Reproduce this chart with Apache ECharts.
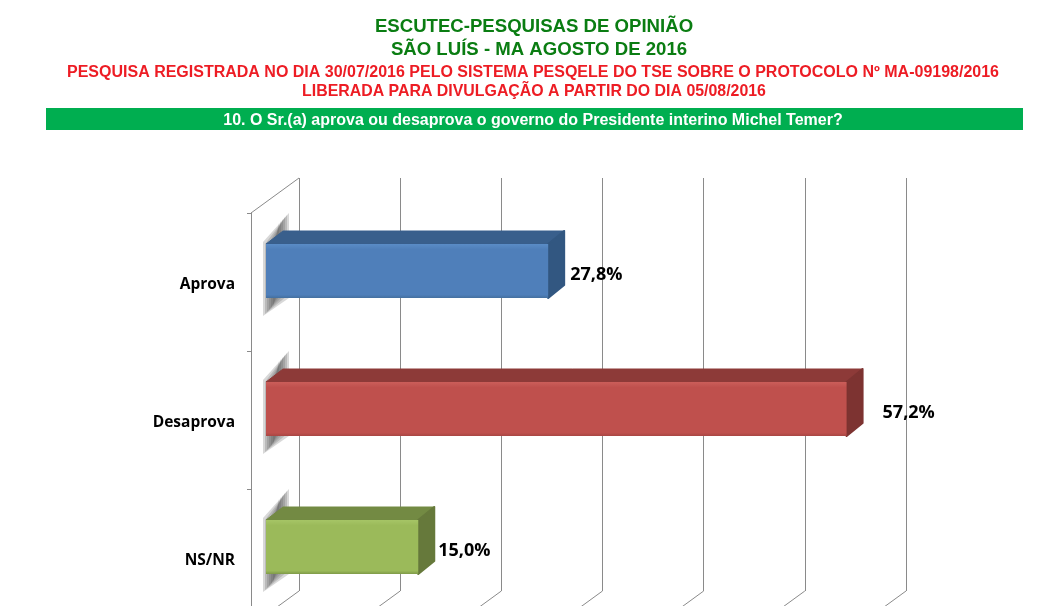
<!DOCTYPE html>
<html>
<head>
<meta charset="utf-8">
<style>
html, body { margin: 0; padding: 0; background: #fff; }
#chart { width: 1046px; height: 606px; }
</style>
<script src="https://cdn.jsdelivr.net/npm/echarts@6/dist/echarts.min.js"></script>
</head>
<body>
<div id="chart"></div>
<script>
var categories = ['Aprova', 'Desaprova', 'NS/NR']
var values = [27.8, 57.2, 15.0]
var valueLabels = ['27,8%', '57,2%', '15,0%']
var wallTicks = [0, 10, 20, 30, 40, 50, 60]

var questionText = '10. O Sr.(a) aprova ou desaprova o governo do Presidente interino Michel Temer?'

// face colours of each bar: front top, front bottom, top face, side face
var barStyles = [
  { light: '#5a8cc6', front: '#4f7fba', bottom: '#44709f', top: '#395f8c', side: '#325781' },
  { light: '#cb5e5a', front: '#bf504d', bottom: '#a84643', top: '#8d3a38', side: '#7d3331' },
  { light: '#a6c566', front: '#9bba5a', bottom: '#7f9a48', top: '#738a43', side: '#66793b' }
]
var labelGaps = [5, 19, 3]

var DEPTH_X = 17
var DEPTH_Y = 13
var BAR_H = 54
var WALL_DX = 48
var WALL_DY = 35
var fontLabel = '"Open Sans", "Noto Sans", sans-serif'
var fontTitle = '"Liberation Sans", Arial, sans-serif'
var lineColor = '#8a8a8a'

// soft shadow on the side wall, stacked see-through layers
function wallShadow(yT, yB) {
  var layers = []
  for (var d = 0; d <= 10; d += 2) {
    layers.push({
      type: 'polygon',
      shape: {
        points: [
          [263 + d, yT - 2 + d],
          [289 - d, yT - 31 + d],
          [289 - d, yB - d],
          [263 + d, yB + 18 - d]
        ]
      },
      style: { fill: 'rgba(85,85,85,0.23)' }
    })
  }
  return layers
}

function renderBar(params, api) {
  var i = params.dataIndex
  var s = barStyles[i]
  var start = api.coord([0, api.value(1)])
  var end = api.coord([api.value(0), api.value(1)])
  var x0 = start[0]
  var x1 = end[0]
  var yT = end[1] - 11 - BAR_H / 2
  var yB = yT + BAR_H
  return {
    type: 'group',
    children: wallShadow(yT, yB).concat([
      {
        type: 'polygon',
        shape: { points: [[x0, yT], [x0 + DEPTH_X, yT - DEPTH_Y], [x1 + DEPTH_X - 1, yT - DEPTH_Y], [x1, yT]] },
        style: { fill: s.top, stroke: s.top, lineWidth: 1, lineJoin: 'round' }
      },
      {
        type: 'polygon',
        shape: { points: [[x1, yT], [x1 + DEPTH_X - 1, yT - DEPTH_Y], [x1 + DEPTH_X - 1, yB - DEPTH_Y], [x1, yB]] },
        style: { fill: s.side, stroke: s.side, lineWidth: 2, lineJoin: 'round' }
      },
      {
        type: 'rect',
        shape: { x: x0, y: yT, width: x1 - x0, height: BAR_H },
        style: {
          fill: new echarts.graphic.LinearGradient(0, 0, 0, 1, [
            { offset: 0, color: s.light },
            { offset: 0.1, color: s.front },
            { offset: 0.94, color: s.front },
            { offset: 1, color: s.bottom }
          ])
        }
      },
      {
        type: 'text',
        z2: 10,
        style: {
          text: valueLabels[i],
          x: x1 + DEPTH_X + labelGaps[i],
          y: end[1] - 7,
          fill: '#000',
          font: 'bold 18px ' + fontLabel,
          verticalAlign: 'middle'
        }
      }
    ])
  }
}

function renderWall(params, api) {
  var v = api.value(0)
  var bottom = api.coord([v, 0])
  var children = [{
    type: 'line',
    shape: { x1: bottom[0], y1: bottom[1], x2: bottom[0] - WALL_DX, y2: bottom[1] + WALL_DY },
    style: { stroke: lineColor, lineWidth: 1 }
  }]
  if (v === 0) {
    var top = api.coord([v, 1])
    children.push({
      type: 'line',
      shape: { x1: top[0], y1: top[1], x2: top[0] - WALL_DX, y2: top[1] + WALL_DY },
      style: { stroke: lineColor, lineWidth: 1 }
    })
  }
  return { type: 'group', children: children }
}

var option = {
  backgroundColor: '#fff',
  animation: false,
  title: [
    { text: 'ESCUTEC-PESQUISAS DE OPINIÃO', left: 529, top: 12, textAlign: 'center',
      textStyle: { color: '#0a7d12', fontFamily: fontTitle, fontWeight: 'bold', fontSize: 18.6 } },
    { text: 'SÃO LUÍS - MA AGOSTO DE 2016', left: 534, top: 35, textAlign: 'center',
      textStyle: { color: '#0a7d12', fontFamily: fontTitle, fontWeight: 'bold', fontSize: 18.6 } },
    { text: 'PESQUISA REGISTRADA NO DIA 30/07/2016 PELO SISTEMA PESQELE DO TSE SOBRE O PROTOCOLO Nº MA-09198/2016', left: 528, top: 60, textAlign: 'center',
      textStyle: { color: '#ed1c24', fontFamily: fontTitle, fontWeight: 'bold', fontSize: 16 } },
    { text: 'LIBERADA PARA DIVULGAÇÃO A PARTIR DO DIA 05/08/2016', left: 529, top: 79, textAlign: 'center',
      textStyle: { color: '#ed1c24', fontFamily: fontTitle, fontWeight: 'bold', fontSize: 15.9 } },
    { text: questionText, left: 528, top: 108, textAlign: 'center',
      textStyle: { color: '#fff', fontFamily: fontTitle, fontWeight: 'bold', fontSize: 16 } }
  ],
  graphic: [
    { type: 'rect', z: 1, shape: { x: 46, y: 108, width: 977, height: 22 }, style: { fill: '#00ae50' } }
  ],
  grid: [
    { left: 266, width: 609, top: 213, height: 414, outerBoundsMode: 'none' },
    { left: 299, width: 607, top: 178, height: 413, outerBoundsMode: 'none' }
  ],
  xAxis: [
    { type: 'value', gridIndex: 0, min: 0, max: 60, show: false },
    {
      type: 'value',
      gridIndex: 1,
      min: 0,
      max: 60,
      interval: 10,
      axisLine: { show: false },
      axisTick: { show: false },
      axisLabel: { show: false },
      splitLine: { show: true, lineStyle: { color: lineColor, width: 1 } }
    }
  ],
  yAxis: [
    {
      type: 'category',
      gridIndex: 0,
      inverse: true,
      data: categories,
      offset: 15,
      axisLine: { show: true, onZero: false, lineStyle: { color: lineColor, width: 1 } },
      axisTick: { show: true, length: 4, lineStyle: { color: lineColor } },
      axisLabel: {
        margin: 16,
        color: '#000',
        fontFamily: fontLabel,
        fontWeight: 'bold',
        fontSize: 15.5,
        verticalAlign: 'top',
        lineHeight: 6
      }
    },
    { type: 'value', gridIndex: 1, min: 0, max: 1, show: false, splitLine: { show: false } }
  ],
  series: [
    {
      type: 'custom',
      xAxisIndex: 1,
      yAxisIndex: 1,
      z: 1,
      renderItem: renderWall,
      encode: { x: 0 },
      data: wallTicks.map(function(v) { return [v] })
    },
    {
      type: 'custom',
      xAxisIndex: 0,
      yAxisIndex: 0,
      z: 5,
      renderItem: renderBar,
      encode: { x: 0, y: 1 },
      data: values.map(function(v, i) { return [v, i] })
    }
  ]
}

var chart = echarts.init(document.getElementById('chart'))
chart.setOption(option)
</script>
</body>
</html>
